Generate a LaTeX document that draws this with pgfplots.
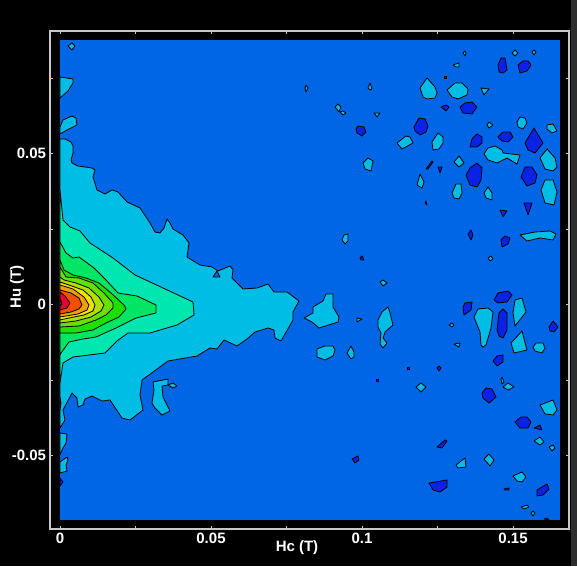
\documentclass[border=0pt]{standalone}
\usepackage{fontspec}
\setmainfont{Liberation Sans}
\usepackage{pgfplots}
\pgfplotsset{compat=1.18}
\definecolor{bg}{HTML}{0066E6}
\definecolor{dk}{HTML}{0A22E6}
\definecolor{cy}{HTML}{00BDE6}
\definecolor{l3}{HTML}{00E6B0}
\definecolor{l4}{HTML}{00E664}
\definecolor{l5}{HTML}{1CE000}
\definecolor{l6}{HTML}{66E000}
\definecolor{l7}{HTML}{B0E000}
\definecolor{l8}{HTML}{F0E000}
\definecolor{l9}{HTML}{F0A000}
\definecolor{l10}{HTML}{F05000}
\definecolor{l11}{HTML}{E80030}
\definecolor{l12}{HTML}{E000A0}
\definecolor{fr}{HTML}{C8C8C8}
\newcommand\Rg[2]{\addplot[fill=#1,draw=black,line width=0.8pt,line join=round] coordinates {#2} --cycle;}
\newcommand\Cy[1]{\Rg{cy}{#1}}
\newcommand\Dk[1]{\Rg{dk}{#1}}
\begin{document}
\begin{tikzpicture}[x=1pt,y=1pt]
\useasboundingbox (0,0) rectangle (577,566);
\fill[black] (0,0) rectangle (577,566);
\fill[black!82] (571,0) rectangle (577,566);
\begin{axis}[
  at={(50pt,37pt)},anchor=south west,scale only axis,width=519pt,height=498pt,
  xmin=-0.00331,xmax=0.16854,ymin=-0.07434,ymax=0.09056,
  scaled x ticks=false,scaled y ticks=false,
  % contours are digitised as picture positions; these calibrate them to tesla
  x filter/.expression={(x-60)/3020},
  y filter/.expression={(304.5-y)/3020},
  xtick={0,0.025,0.05,0.075,0.1,0.125,0.15},
  xticklabels={0,,0.05,,0.1,,0.15},
  ytick={-0.05,-0.025,0,0.025,0.05,0.075},
  yticklabels={-0.05,,0,,0.05,},
  tick align=inside,major tick length=3pt,
  tick style={fr,line width=0.8pt},
  axis line style={fr,line width=1.3pt},
  ticklabel style={white,font=\fontsize{15}{15}\selectfont\bfseries},
  xticklabel style={yshift=0pt},
  yticklabel style={xshift=-0.5pt},
  xlabel={Hc (T)},ylabel={Hu (T)},
  label style={white,font=\fontsize{15}{15}\selectfont\bfseries},
  xlabel style={at={(axis description cs:0.4759,-0.0382)},anchor=center},
  ylabel style={at={(axis description cs:-0.0636,0.486)},anchor=center},
]
\addplot[fill=bg,draw=none] coordinates {(60,40)(560,40)(560,520)(60,520)} --cycle;
% main region
\Cy{(60,139)(65,139)(71,142)(73,146)(73,153)(71,160)(72,163)(78,166)(92,168)(95,170)(93,177)(97,190)(105,194)(112,190)(118,192)(127,202)(140,208)(150,223)(155,232)(160,233)(164,228)(167,219)(170,223)(173,229)(183,235)(189,243)(187,257)(200,265)(212,267)(218,271)(230,266)(233,270)(232,278)(243,289)(257,288)(268,284)(274,292)(287,292)(299,301)(293,312)(293,320)(281,341)(275,338)(274,330)(268,328)(255,332)(247,339)(237,346)(224,340)(217,349)(210,348)(197,356)(168,361)(153,372)(142,380)(140,395)(143,410)(130,420)(122,418)(118,412)(110,400)(102,401)(92,396)(85,399)(83,405)(78,407)(77,398)(72,393)(63,410)(65,420)(60,428)}
\Rg{bg}{(217,271)(213,277)(220,277)}
\Rg{bg}{(60,397)(61,403)(60,410)}
\Rg{l3}{(60,190)(63,220)(70,227)(80,231)(90,243)(113,258)(135,275)(163,288)(193,302)(194,315)(177,325)(150,333)(128,333)(117,341)(105,353)(73,357)(63,363)(60,383)}
\Rg{l4}{(60,242)(66,253)(73,258)(79,257)(94,268)(106,280)(118,293)(137,296)(156,305)(156,313)(136,318)(116,328)(96,337)(83,339)(69,342)(61,353)(60,355)}
\Rg{l5}{(60,260)(64,270)(73,275)(86,278)(99,283)(111,293)(124,305)(126,309)(119,317)(106,323)(93,330)(76,333)(60,333)}
\Rg{l6}{(60,267)(66,277)(79,278)(93,283)(104,293)(113,303)(113,308)(106,315)(96,320)(79,326)(60,327)}
\Rg{l7}{(60,277)(64,280)(76,283)(89,288)(99,297)(104,305)(101,311)(91,317)(76,321)(60,323)}
\Rg{l8}{(60,282)(69,285)(83,290)(91,297)(95,305)(93,311)(84,315)(69,318)(60,320)}
\Rg{l9}{(60,285)(73,289)(84,297)(89,305)(87,310)(78,314)(60,317)}
\Rg{l10}{(60,290)(71,293)(79,298)(82,305)(79,309)(71,312)(60,314)}
\Rg{l11}{(60,292)(65,296)(70,303)(67,308)(60,310)}
\Rg{l12}{(60,299)(61,301)(62,304)(60,306)}
% left edge
\Cy{(153,382)(168,379)(168,385)(162,386)(163,397)(170,411)(162,415)(155,408)(152,403)(154,390)}
\Cy{(168,385)(173,383)(177,386)(173,388)}
\Cy{(60,433)(67,434)(66,443)(63,448)(60,455)}
\Cy{(60,462)(67,457)(68,460)(66,465)(67,471)(60,473)}
\Dk{(60,478)(63,482)(60,486)}
\Cy{(60,77)(73,79)(73,83)(68,91)(60,98)}
\Cy{(60,127)(63,120)(72,116)(76,118)(77,125)(67,130)(60,134)}
\Cy{(68,46)(72,43)(75,46)(72,50)}
% middle islands
\Cy{(304,318)(313,313)(313,307)(323,301)(326,294)(333,294)(333,307)(339,317)(338,322)(319,328)(312,322)}
\Cy{(317,349)(325,346)(333,346)(335,350)(333,356)(325,360)(317,357)}
\Cy{(347,353)(351,346)(354,352)(354,357)(351,359)}
\Cy{(378,320)(382,312)(388,307)(390,313)(393,325)(385,332)(383,338)(387,343)(383,348)(380,344)(381,333)(378,327)}
\Cy{(357,318)(362,319)(357,322)}
\Cy{(342,240)(344,235)(348,234)(348,241)(345,244)}
\Dk{(360,258)(362,256)(364,260)(361,260)}
\Cy{(380,282)(383,280)(387,283)(383,286)}
\Dk{(407,367)(409,367)(409,369)(407,369)}
\Dk{(376,379)(378,379)(378,381)(376,381)}
\Dk{(352,459)(358,456)(359,460)(355,463)}
\Cy{(305,88)(306,85)(308,88)(306,92)}
\Cy{(368,88)(370,83)(372,89)(370,90)}
\Cy{(335,107)(338,104)(341,107)(339,112)}
\Cy{(340,112)(343,111)(346,113)(343,115)}
\Cy{(374,113)(380,113)(377,117)}
\Dk{(356,129)(358,126)(364,127)(366,132)(362,136)(357,133)}
\Cy{(363,163)(368,158)(373,161)(371,171)(365,169)}
% upper right
\Cy{(463,53)(465,51)(466,53)(465,56)}
\Cy{(453,65)(459,63)(459,67)(456,67)}
\Dk{(444,76)(446,76)(446,78)(444,78)}
\Cy{(420,88)(427,78)(435,87)(437,93)(435,98)(427,99)(423,97)}
\Cy{(447,90)(455,83)(462,83)(468,89)(467,95)(458,99)(452,97)}
\Cy{(481,88)(489,89)(484,95)}
\Dk{(441,107)(446,105)(449,107)(446,111)}
\Dk{(460,107)(465,103)(472,102)(477,107)(472,114)(463,113)}
\Dk{(414,127)(419,118)(425,119)(428,126)(426,132)(420,135)(415,131)}
\Cy{(397,143)(406,136)(410,137)(413,143)(402,149)}
\Cy{(432,142)(438,133)(443,137)(443,143)(439,149)(433,150)}
\Dk{(470,147)(472,139)(477,134)(482,137)(482,143)(477,147)}
\Dk{(498,137)(503,132)(510,132)(513,137)(508,142)(502,141)}
\Cy{(487,125)(489,122)(493,125)(489,128)}
\Cy{(517,122)(520,117)(525,118)(527,123)(523,129)(518,127)}
\Cy{(547,125)(553,124)(557,131)(552,133)(547,129)}
\Dk{(525,143)(534,128)(543,143)(535,153)(528,150)}
\Cy{(484,154)(488,148)(495,146)(502,150)(503,153)(520,155)(517,164)(507,158)(497,163)(488,160)}
\Cy{(540,158)(547,149)(555,158)(557,167)(553,171)(545,169)}
\Dk{(426,169)(432,161)(433,162)(428,169)}
\Dk{(438,167)(442,167)(440,173)}
\Cy{(454,162)(459,156)(464,163)(459,167)}
\Dk{(466,175)(470,168)(477,163)(482,168)(481,180)(477,187)(470,185)}
\Cy{(417,185)(420,174)(424,182)(422,188)}
\Cy{(452,193)(456,184)(461,184)(462,193)(459,199)(454,198)}
\Cy{(484,193)(488,187)(492,193)(492,200)(486,198)}
\Dk{(521,177)(525,167)(532,167)(537,175)(535,183)(527,186)}
\Cy{(541,190)(545,180)(553,180)(557,192)(554,205)(545,203)}
\Dk{(425,203)(426,201)(427,205)}
\Dk{(500,210)(507,211)(503,217)}
\Dk{(524,203)(532,203)(528,215)}
\Cy{(512,53)(515,50)(518,53)(515,56)}
\Cy{(532,52)(534,50)(536,52)(534,55)}
\Dk{(498,65)(501,58)(505,58)(507,70)(503,73)(499,72)}
\Dk{(518,65)(523,61)(528,61)(531,65)(527,71)(520,73)}
% middle right
\Dk{(468,234)(471,230)(473,235)(471,240)}
\Dk{(501,240)(505,236)(510,238)(508,244)(502,247)}
\Cy{(520,235)(535,232)(550,231)(556,234)(553,240)(540,238)(527,241)}
\Cy{(488,258)(491,256)(493,259)(490,261)}
% lower right
\Dk{(494,300)(498,293)(508,291)(512,295)(507,302)(498,303)}
\Dk{(463,307)(465,303)(472,302)(471,310)(464,315)}
\Cy{(474,317)(478,309)(488,308)(493,312)(491,328)(486,345)(483,347)(481,345)(480,332)}
\Dk{(497,330)(499,313)(503,309)(507,313)(507,330)(503,338)(499,336)}
\Cy{(513,313)(515,300)(522,298)(526,312)(515,326)}
\Dk{(549,327)(553,321)(558,327)(554,332)(550,331)}
\Cy{(449,325)(452,323)(454,325)(452,327)}
\Cy{(454,344)(460,343)(459,347)(457,346)}
\Cy{(511,343)(522,331)(527,350)(514,353)}
\Cy{(533,347)(536,343)(543,343)(545,348)(542,353)(535,351)}
\Dk{(493,361)(497,356)(503,355)(503,362)(497,366)}
\Dk{(437,368)(439,366)(441,368)(439,371)}
\Cy{(416,387)(421,383)(426,387)(421,392)}
\Cy{(501,379)(502,377)(504,382)(502,384)}
\Cy{(503,387)(508,383)(514,387)(508,390)}
\Dk{(482,393)(486,388)(492,389)(496,397)(489,403)(483,398)}
\Cy{(540,405)(553,400)(557,410)(553,415)(545,414)}
\Dk{(515,422)(521,417)(527,417)(531,422)(528,428)(520,428)}
\Dk{(534,428)(540,425)(542,430)}
\Cy{(534,441)(540,437)(544,442)(540,445)}
\Cy{(549,447)(553,445)(555,448)(552,451)}
\Dk{(437,447)(445,440)(447,441)(442,448)}
\Cy{(456,465)(465,458)(466,467)(458,468)}
\Cy{(484,459)(489,454)(494,460)(490,466)}
\Cy{(513,476)(522,472)(526,477)(522,482)(517,481)}
\Dk{(429,483)(447,480)(447,487)(440,492)(433,490)}
\Dk{(504,489)(509,488)(509,490)(505,490)}
\Dk{(537,490)(547,484)(549,489)(543,495)(537,496)}
\Cy{(521,507)(527,505)(529,507)(524,509)}
\Cy{(531,513)(533,511)(535,513)(533,516)}
\Dk{(544,519)(547,518)(549,520)}
\end{axis}
\end{tikzpicture}
\end{document}
